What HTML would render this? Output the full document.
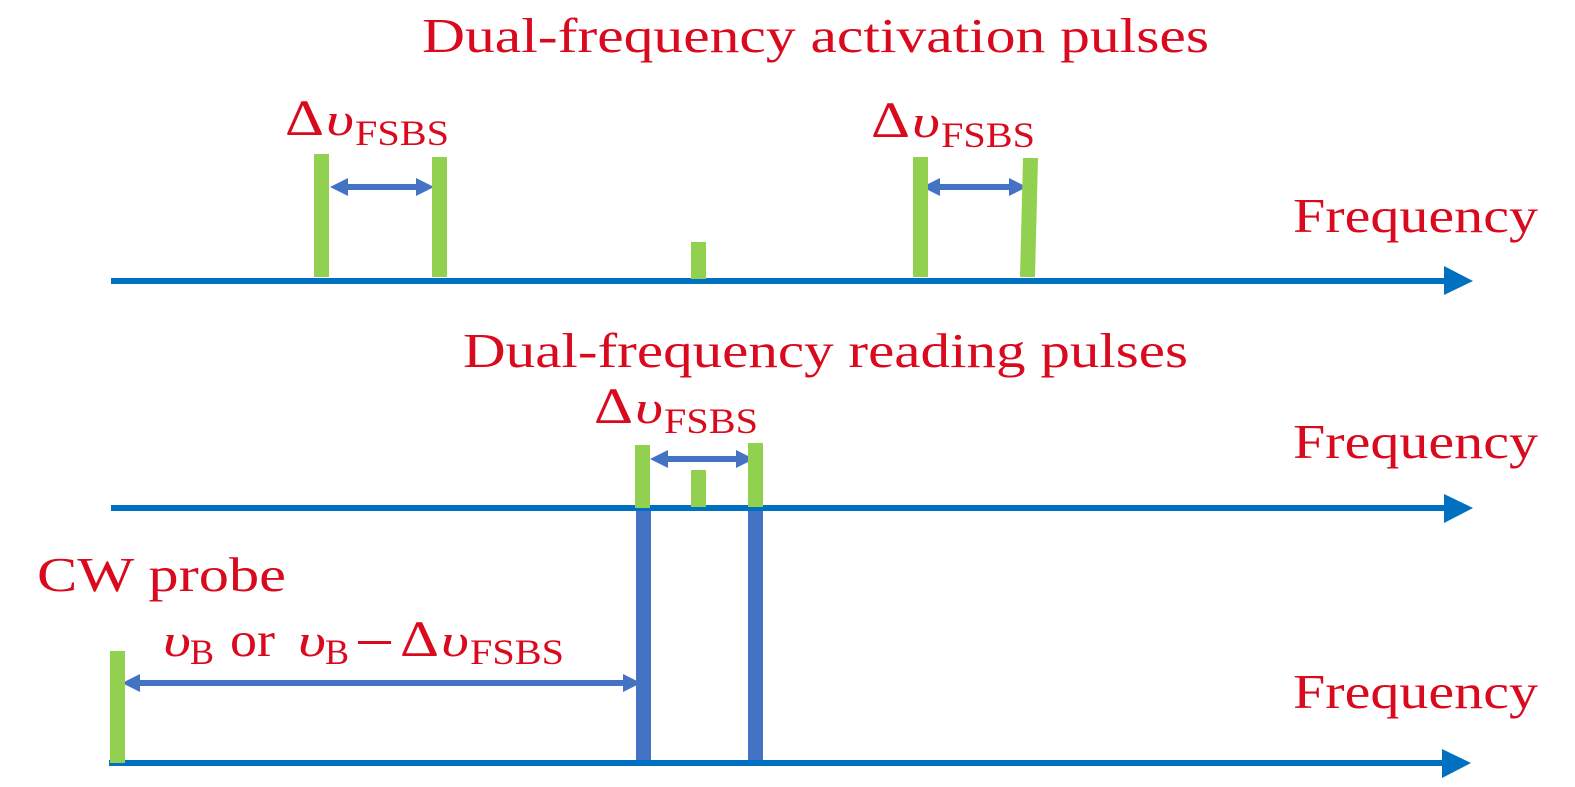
<!DOCTYPE html>
<html><head><meta charset="utf-8"><style>
html,body{margin:0;padding:0;background:#fff;width:1575px;height:787px;overflow:hidden}
svg{display:block}
text{font-family:"Liberation Serif",serif;fill:#d90a1e}
.t{font-size:49px}
.d{font-size:51px}
.v{font-size:46px;font-style:italic}
.s{font-size:36px}
</style></head><body>
<svg width="1575" height="787" viewBox="0 0 1575 787" xmlns="http://www.w3.org/2000/svg">
<rect width="1575" height="787" fill="#fff"/>
<g fill="#4472c4">
<polygon points="330,187 348,178 348,184 416,184 416,178 434,187 416,196 416,190 348,190 348,196"/>
<polygon points="922,187 940,178 940,184 1009,184 1009,178 1027,187 1009,196 1009,190 940,190 940,196"/>
<polygon points="650,459 668,450 668,456 736,456 736,450 754,459 736,468 736,462 668,462 668,468"/>
<polygon points="122,683 140,674 140,680 623,680 623,674 641,683 623,692 623,686 140,686 140,692"/>
<rect x="636" y="510" width="15" height="250"/>
<rect x="748" y="510" width="15" height="250"/>
</g>
<g fill="#0070c0">
<rect x="111" y="278" width="1335" height="6"/><polygon points="1444,266 1473,281 1444,295"/>
<rect x="111" y="505" width="1335" height="6"/><polygon points="1444,494 1473,508 1444,523"/>
<rect x="109" y="760" width="1335" height="6"/><polygon points="1442,749 1471,763 1442,778"/>
</g>
<g fill="#92d050">
<rect x="314" y="154" width="15" height="123"/>
<rect x="432" y="157" width="15" height="120"/>
<rect x="691" y="242" width="15" height="37"/>
<rect x="913" y="157" width="15" height="120"/>
<polygon points="1023,158 1038,158 1035,277 1020,277"/>
<rect x="635" y="445" width="15" height="63"/>
<rect x="691" y="470" width="15" height="37"/>
<rect x="748" y="443" width="15" height="64"/>
<rect x="110" y="651" width="15" height="112"/>
</g>
<text class="t" x="422" y="52" textLength="787" lengthAdjust="spacingAndGlyphs">Dual-frequency activation pulses</text>
<text class="t" x="463" y="367" textLength="725" lengthAdjust="spacingAndGlyphs">Dual-frequency reading pulses</text>
<text class="t" x="37" y="591" textLength="249" lengthAdjust="spacingAndGlyphs">CW probe</text>
<text class="t" x="1293" y="232" textLength="245" lengthAdjust="spacingAndGlyphs">Frequency</text>
<text class="t" x="1293" y="458" textLength="245" lengthAdjust="spacingAndGlyphs">Frequency</text>
<text class="t" x="1293" y="708" textLength="245" lengthAdjust="spacingAndGlyphs">Frequency</text>

<text class="d" x="285" y="135" textLength="39" lengthAdjust="spacingAndGlyphs">Δ</text><text class="v" x="326" y="135" textLength="28" lengthAdjust="spacingAndGlyphs">υ</text><text class="s" x="355" y="145" textLength="94" lengthAdjust="spacingAndGlyphs">FSBS</text>
<text class="d" x="871" y="137" textLength="39" lengthAdjust="spacingAndGlyphs">Δ</text><text class="v" x="912" y="137" textLength="28" lengthAdjust="spacingAndGlyphs">υ</text><text class="s" x="941" y="147" textLength="94" lengthAdjust="spacingAndGlyphs">FSBS</text>
<text class="d" x="594" y="423" textLength="39" lengthAdjust="spacingAndGlyphs">Δ</text><text class="v" x="635" y="423" textLength="28" lengthAdjust="spacingAndGlyphs">υ</text><text class="s" x="664" y="433" textLength="94" lengthAdjust="spacingAndGlyphs">FSBS</text>

<text class="v" x="163" y="656" textLength="28" lengthAdjust="spacingAndGlyphs">υ</text><text class="s" x="190" y="664" textLength="24" lengthAdjust="spacingAndGlyphs">B</text>
<text class="t" x="230" y="656" textLength="45" lengthAdjust="spacingAndGlyphs">or</text>
<text class="v" x="298" y="656" textLength="28" lengthAdjust="spacingAndGlyphs">υ</text><text class="s" x="325" y="664" textLength="24" lengthAdjust="spacingAndGlyphs">B</text>
<rect x="358" y="641" width="33" height="3" fill="#d90a1e"/>
<text class="d" x="400" y="656" textLength="39" lengthAdjust="spacingAndGlyphs">Δ</text><text class="v" x="441" y="656" textLength="28" lengthAdjust="spacingAndGlyphs">υ</text><text class="s" x="470" y="664" textLength="94" lengthAdjust="spacingAndGlyphs">FSBS</text>
</svg>
</body></html>
